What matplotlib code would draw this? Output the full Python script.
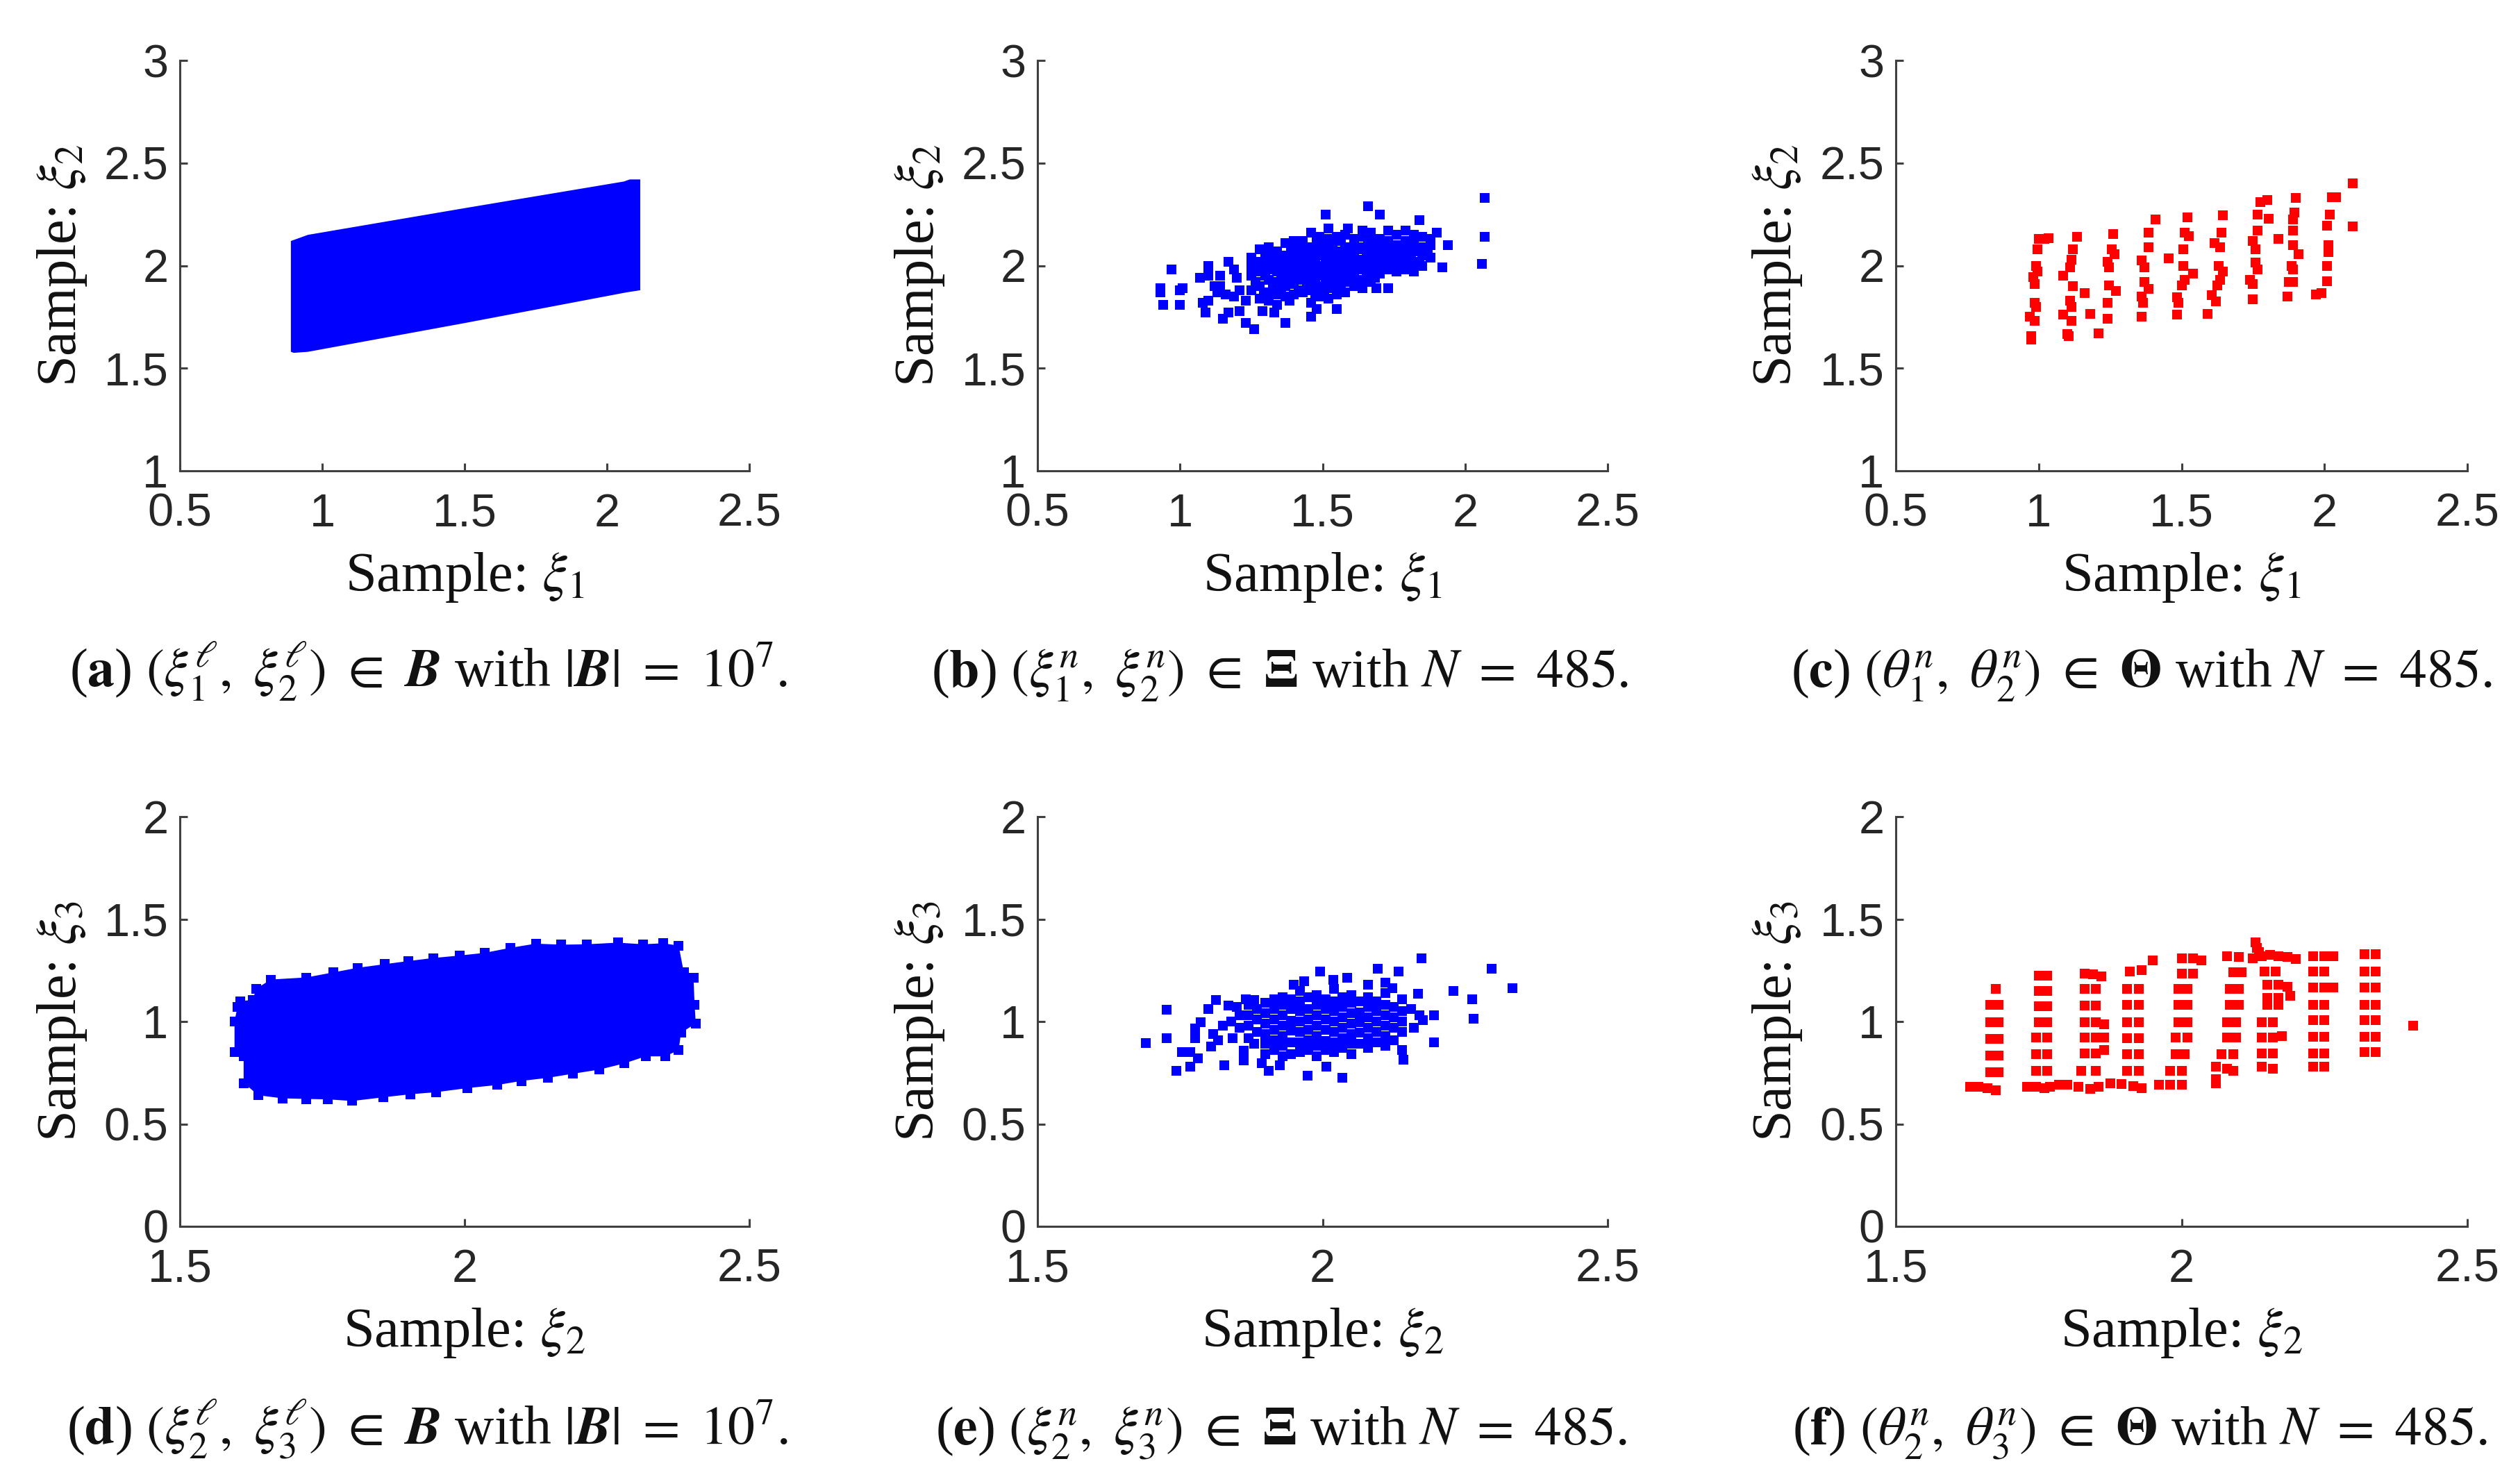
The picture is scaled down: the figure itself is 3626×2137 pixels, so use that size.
#!/usr/bin/env python3
"""plot.py - six scatter panels of the sample sets, saved as out.png"""
import matplotlib
matplotlib.use("Agg")
import matplotlib.pyplot as plt

W, H = 3626, 2137
BLUE = "#0000ff"
RED = "#ff0000"
AXC = "#404040"
MARK = 95

plt.rcParams["font.family"] = ["Liberation Serif", "DejaVu Serif"]
plt.rcParams["mathtext.fontset"] = "stix"

# outlines of the two solid regions (a) and (d)
a_x = [0.89, 0.90, 0.95, 1.50, 2.06, 2.08, 2.117, 2.117, 2.07, 1.50, 0.95, 0.90, 0.89]
a_y = [2.12, 2.125, 2.15, 2.28, 2.41, 2.42, 2.42, 1.88, 1.87, 1.72, 1.58, 1.575, 1.58]

d_x = [1.606, 1.628, 1.634, 1.66, 1.722, 1.77, 1.812, 1.86, 1.901, 1.945, 1.991, 2.035, 2.081, 2.125,
       2.17, 2.215, 2.269, 2.314, 2.349, 2.376, 2.385, 2.402, 2.404, 2.406, 2.38, 2.376, 2.352,
       2.318, 2.28, 2.236, 2.19, 2.146, 2.10, 2.057, 2.005, 1.95, 1.905, 1.857, 1.803, 1.76, 1.722,
       1.68, 1.638, 1.612, 1.612, 1.596, 1.596, 1.601]
d_y = [1.10, 1.105, 1.16, 1.205, 1.215, 1.24, 1.262, 1.28, 1.295, 1.31, 1.322, 1.335, 1.36, 1.38,
       1.375, 1.377, 1.385, 1.377, 1.382, 1.37, 1.24, 1.215, 1.08, 0.99, 0.945, 0.86, 0.83,
       0.83, 0.795, 0.765, 0.745, 0.725, 0.71, 0.69, 0.675, 0.655, 0.645, 0.63, 0.612, 0.62, 0.622,
       0.625, 0.64, 0.70, 0.83, 0.85, 1.00, 1.07]

# panel (b) samples, xi1 / xi2
b_pts = [
    (0.93, 1.89), (0.93, 1.87), (0.94, 1.81), (0.97, 1.98), (1.00, 1.88), (1.01, 1.89), (1.00, 1.81),
    (1.07, 1.94), (1.08, 1.82), (1.10, 1.83), (1.09, 1.77), (1.10, 2.00), (1.10, 1.95), (1.14, 1.95),
    (1.17, 2.02), (1.19, 1.98), (1.14, 1.90), (1.15, 1.74), (1.17, 1.77), (1.21, 1.78), (1.23, 1.72),
    (1.26, 1.69), (1.29, 1.78), (1.33, 1.77), (1.37, 1.72), (1.46, 1.75), (1.48, 1.79), (1.55, 1.79),
    (1.51, 2.25), (1.66, 2.29), (1.70, 2.25), (1.84, 2.22), (1.52, 2.18), (1.59, 2.18), (2.07, 2.33),
    (2.07, 2.14), (2.06, 2.01), (1.90, 2.16), (1.94, 2.10), (1.92, 1.99), (1.73, 1.89), (1.69, 1.89),
    (1.64, 1.89), (1.12, 1.90), (1.16, 1.86), (1.19, 1.85), (1.21, 1.88), (1.23, 1.83), (1.20, 1.94),
    (1.13, 1.87),
    (1.25, 1.88), (1.25, 1.95), (1.25, 2.00), (1.25, 2.04),
    (1.28, 1.84), (1.28, 1.90), (1.28, 1.97), (1.28, 2.02), (1.28, 2.08),
    (1.31, 1.83), (1.31, 1.87), (1.31, 1.93), (1.31, 1.98), (1.31, 2.03), (1.31, 2.09),
    (1.34, 1.81), (1.34, 1.86), (1.34, 1.92), (1.34, 1.97), (1.34, 2.02), (1.34, 2.07),
    (1.37, 1.85), (1.37, 1.90), (1.37, 1.95), (1.37, 2.00), (1.37, 2.05), (1.37, 2.11),
    (1.40, 1.86), (1.40, 1.91), (1.40, 1.96), (1.40, 2.01), (1.40, 2.06), (1.40, 2.12),
    (1.43, 1.87), (1.43, 1.93), (1.43, 1.98), (1.43, 2.03), (1.43, 2.08), (1.43, 2.12),
    (1.46, 1.82), (1.46, 1.88), (1.46, 1.94), (1.46, 1.99), (1.46, 2.04), (1.46, 2.09), (1.46, 2.16),
    (1.49, 1.85), (1.49, 1.90), (1.49, 1.95), (1.49, 2.00), (1.49, 2.05), (1.49, 2.10), (1.49, 2.14),
    (1.52, 1.84), (1.52, 1.89), (1.52, 1.94), (1.52, 1.99), (1.52, 2.04), (1.52, 2.09), (1.52, 2.13),
    (1.55, 1.86), (1.55, 1.92), (1.55, 1.97), (1.55, 2.02), (1.55, 2.07), (1.55, 2.14),
    (1.58, 1.87), (1.58, 1.93), (1.58, 1.98), (1.58, 2.03), (1.58, 2.09), (1.58, 2.15),
    (1.61, 1.90), (1.61, 1.95), (1.61, 2.00), (1.61, 2.05), (1.61, 2.11), (1.61, 2.13),
    (1.64, 1.93), (1.64, 1.98), (1.64, 2.03), (1.64, 2.08), (1.64, 2.14), (1.64, 2.17),
    (1.67, 1.92), (1.67, 1.97), (1.67, 2.02), (1.67, 2.07), (1.67, 2.12), (1.67, 2.16),
    (1.70, 1.96), (1.70, 2.01), (1.70, 2.05), (1.70, 2.09), (1.70, 2.13),
    (1.73, 1.98), (1.73, 2.03), (1.73, 2.08), (1.73, 2.12), (1.73, 2.17),
    (1.76, 1.97), (1.76, 2.02), (1.76, 2.06), (1.76, 2.10), (1.76, 2.15),
    (1.79, 1.98), (1.79, 2.03), (1.79, 2.07), (1.79, 2.12), (1.79, 2.17),
    (1.82, 1.97), (1.82, 2.02), (1.82, 2.07), (1.82, 2.11), (1.82, 2.15),
    (1.85, 2.00), (1.85, 2.05), (1.85, 2.09), (1.85, 2.14),
    (1.88, 2.04), (1.88, 2.10), (1.88, 2.13),
    (1.265, 1.92), (1.27, 2.01), (1.295, 1.87), (1.30, 1.95), (1.30, 2.05), (1.325, 1.90), (1.325, 2.00),
    (1.33, 2.06), (1.355, 1.88), (1.355, 1.94), (1.36, 1.99), (1.355, 2.04), (1.385, 1.83), (1.385, 1.93),
    (1.39, 1.98), (1.385, 2.03), (1.39, 2.08), (1.415, 1.88), (1.415, 1.94), (1.42, 2.00), (1.415, 2.05),
    (1.41, 2.10), (1.445, 1.90), (1.45, 1.96), (1.445, 2.01), (1.45, 2.06), (1.475, 1.86), (1.475, 1.92),
    (1.48, 1.97), (1.475, 2.02), (1.48, 2.07), (1.48, 2.12), (1.505, 1.87), (1.51, 1.92), (1.505, 1.97),
    (1.51, 2.02), (1.505, 2.07), (1.51, 2.11), (1.535, 1.90), (1.54, 1.95), (1.535, 2.00), (1.54, 2.05),
    (1.535, 2.11), (1.565, 1.89), (1.57, 1.95), (1.565, 2.00), (1.57, 2.06), (1.565, 2.12), (1.595, 1.92),
    (1.60, 1.97), (1.595, 2.02), (1.60, 2.07), (1.625, 1.93), (1.63, 1.98), (1.625, 2.03), (1.63, 2.09),
    (1.655, 1.95), (1.66, 2.00), (1.655, 2.05), (1.66, 2.10), (1.685, 1.94), (1.69, 1.99), (1.685, 2.04),
    (1.69, 2.11), (1.715, 2.00), (1.72, 2.06), (1.715, 2.11), (1.745, 2.00), (1.75, 2.05), (1.745, 2.10),
    (1.775, 2.00), (1.78, 2.05), (1.775, 2.09), (1.805, 2.00), (1.81, 2.05), (1.805, 2.10), (1.84, 2.02),
    (1.84, 2.08), (1.87, 2.07),
]

# panel (c) design points, theta1 / theta2
c_pts = [
    (0.975, 1.655), (0.975, 1.64), (0.97, 1.75), (0.985, 1.73), (0.985, 1.82), (0.99, 1.80), (0.985, 1.91),
    (0.98, 1.945), (0.995, 1.97), (0.99, 2.00), (0.995, 2.08), (1.00, 2.13), (1.035, 2.135), (1.02, 2.13),
    (1.10, 1.665), (1.105, 1.655), (1.115, 1.73), (1.085, 1.76), (1.115, 1.80), (1.11, 1.83), (1.12, 1.90),
    (1.085, 1.95), (1.11, 1.99), (1.115, 2.03), (1.12, 2.08), (1.135, 2.14), (1.16, 1.865), (1.18, 1.765),
    (1.21, 1.67), (1.24, 1.74), (1.24, 1.82), (1.27, 1.875), (1.245, 1.905), (1.245, 1.99), (1.24, 2.02),
    (1.265, 2.055), (1.255, 2.08), (1.26, 2.155),
    (1.36, 1.75), (1.365, 1.82), (1.36, 1.85), (1.385, 1.885), (1.37, 1.92), (1.36, 2.025), (1.37, 1.99),
    (1.385, 2.09), (1.385, 2.16), (1.41, 2.225), (1.455, 2.035),
    (1.485, 1.76), (1.49, 1.82), (1.485, 1.845), (1.50, 1.905), (1.51, 1.93), (1.54, 1.96), (1.505, 2.00),
    (1.505, 2.08), (1.51, 2.16), (1.525, 2.145), (1.52, 2.235),
    (1.59, 1.765), (1.62, 1.825), (1.605, 1.855), (1.625, 1.905), (1.635, 1.93), (1.645, 1.97), (1.63, 2.00),
    (1.615, 2.11), (1.635, 2.09), (1.64, 2.16), (1.645, 2.245),
    (1.75, 1.835), (1.75, 1.91), (1.74, 1.93), (1.765, 1.98), (1.76, 2.015), (1.76, 2.08), (1.75, 2.12),
    (1.765, 2.17), (1.765, 2.25), (1.775, 2.31), (1.80, 2.32), (1.805, 2.23), (1.84, 2.13),
    (1.87, 1.85), (1.89, 1.92), (1.875, 1.92), (1.885, 2.00), (1.89, 1.98), (1.91, 2.055), (1.89, 2.10),
    (1.89, 2.17), (1.89, 2.225), (1.895, 2.26), (1.90, 2.33),
    (1.97, 1.86), (1.99, 1.865), (2.01, 1.925), (2.01, 2.00), (2.015, 2.065), (2.015, 2.10), (2.01, 2.195),
    (2.02, 2.25), (2.025, 2.335), (2.04, 2.335), (2.10, 2.40), (2.10, 2.19),
]

# panel (e) samples, xi2 / xi3
e_pts = [
    (1.69, 0.895), (1.726, 1.057), (1.726, 0.92), (1.743, 0.758), (1.753, 0.85), (1.768, 0.85), (1.768, 0.78),
    (1.781, 0.82), (1.828, 0.785), (1.862, 0.81), (1.893, 0.795), (1.905, 0.76), (1.925, 0.785), (1.974, 0.735),
    (2.007, 0.78), (2.035, 0.725), (2.142, 0.815), (2.195, 0.90), (2.265, 1.015), (2.262, 1.11), (2.23, 1.15),
    (2.297, 1.257), (2.333, 1.163), (2.173, 1.31), (2.133, 1.245), (2.097, 1.257), (1.996, 1.245), (2.043, 1.213),
    (2.019, 1.203), (1.968, 1.198), (1.95, 1.18), (2.122, 1.163), (2.167, 1.137), (2.195, 1.03), (2.176, 1.007),
    (1.813, 1.105), (1.80, 1.06), (1.786, 0.995), (1.777, 0.965), (1.777, 0.92), (1.808, 0.94), (1.817, 0.91),
    (1.804, 0.877), (1.866, 1.11), (1.835, 1.077), (1.842, 0.92), (1.862, 0.856),
    (1.87, 0.92), (1.87, 0.98), (1.87, 1.03), (1.87, 1.08),
    (1.90, 0.84), (1.90, 0.89), (1.90, 0.94), (1.90, 0.99), (1.90, 1.04), (1.90, 1.09),
    (1.93, 0.83), (1.93, 0.88), (1.93, 0.93), (1.93, 0.98), (1.93, 1.03), (1.93, 1.08), (1.93, 1.12),
    (1.96, 0.85), (1.96, 0.90), (1.96, 0.95), (1.96, 1.00), (1.96, 1.05), (1.96, 1.10), (1.96, 1.15),
    (1.99, 0.83), (1.99, 0.88), (1.99, 0.93), (1.99, 0.98), (1.99, 1.03), (1.99, 1.08), (1.99, 1.13),
    (2.02, 0.85), (2.02, 0.90), (2.02, 0.95), (2.02, 1.00), (2.02, 1.05), (2.02, 1.10), (2.02, 1.16),
    (2.05, 0.84), (2.05, 0.89), (2.05, 0.94), (2.05, 0.99), (2.05, 1.04), (2.05, 1.09), (2.05, 1.13),
    (2.08, 0.87), (2.08, 0.92), (2.08, 0.97), (2.08, 1.02), (2.08, 1.07), (2.08, 1.12), (2.08, 1.18),
    (2.11, 0.88), (2.11, 0.93), (2.11, 0.98), (2.11, 1.03), (2.11, 1.08), (2.11, 1.14), (2.11, 1.19),
    (2.14, 0.86), (2.14, 0.95), (2.14, 1.00), (2.14, 1.05), (2.14, 1.11),
    (1.885, 0.95), (1.885, 1.01), (1.885, 1.06), (1.915, 0.86), (1.915, 0.91), (1.915, 0.96), (1.915, 1.01),
    (1.915, 1.06), (1.915, 1.11), (1.945, 0.84), (1.945, 0.90), (1.945, 0.955), (1.945, 1.005), (1.945, 1.06),
    (1.945, 1.11), (1.975, 0.86), (1.975, 0.91), (1.975, 0.96), (1.975, 1.01), (1.975, 1.06), (1.975, 1.12),
    (2.005, 0.86), (2.005, 0.905), (2.005, 0.96), (2.005, 1.01), (2.005, 1.06), (2.005, 1.11), (2.035, 0.87),
    (2.035, 0.92), (2.035, 0.97), (2.035, 1.02), (2.035, 1.07), (2.035, 1.12), (2.065, 0.89), (2.065, 0.945),
    (2.065, 0.995), (2.065, 1.045), (2.065, 1.10), (2.095, 0.90), (2.095, 0.95), (2.095, 1.00), (2.095, 1.05),
    (2.095, 1.10), (2.125, 0.91), (2.125, 0.97), (2.125, 1.02), (2.125, 1.07), (1.855, 0.97), (1.855, 1.03),
    (1.84, 1.00), (1.88, 0.89), (1.825, 0.98), (1.85, 1.07), (1.88, 1.105), (2.16, 0.97), (2.17, 1.03),
    (2.155, 1.06),
]

# panel (f) design points, theta2 / theta3
f_pts = [
    (1.675, 1.16), (1.665, 1.083), (1.68, 1.083), (1.665, 0.997), (1.68, 0.997), (1.665, 0.914), (1.68, 0.914),
    (1.665, 0.834), (1.68, 0.834), (1.665, 0.752), (1.68, 0.752), (1.63, 0.68), (1.645, 0.68), (1.66, 0.675),
    (1.675, 0.665),
    (1.75, 1.224), (1.765, 1.224), (1.75, 1.148), (1.765, 1.148), (1.75, 1.073), (1.765, 1.073), (1.75, 0.997),
    (1.765, 0.997), (1.745, 0.921), (1.765, 0.921), (1.745, 0.841), (1.765, 0.841), (1.745, 0.758), (1.765, 0.758),
    (1.73, 0.68), (1.745, 0.68), (1.76, 0.675), (1.77, 0.68),
    (1.83, 1.235), (1.845, 1.23), (1.86, 1.22), (1.83, 1.159), (1.85, 1.159), (1.83, 1.077), (1.85, 1.077),
    (1.83, 0.997), (1.85, 0.997), (1.865, 0.985), (1.83, 0.921), (1.85, 0.921), (1.865, 0.921), (1.83, 0.845),
    (1.85, 0.845), (1.865, 0.86), (1.825, 0.758), (1.85, 0.758), (1.785, 0.69), (1.80, 0.69), (1.82, 0.68),
    (1.84, 0.67), (1.855, 0.68),
    (1.91, 1.245), (1.93, 1.25), (1.95, 1.30), (1.905, 1.16), (1.925, 1.16), (1.905, 1.08), (1.925, 1.08),
    (1.905, 0.997), (1.925, 0.997), (1.905, 0.917), (1.925, 0.917), (1.905, 0.839), (1.925, 0.839), (1.905, 0.758),
    (1.925, 0.758), (1.875, 0.70), (1.895, 0.695), (1.915, 0.685), (1.93, 0.675),
    (2.00, 1.31), (2.02, 1.31), (2.035, 1.30), (2.00, 1.235), (2.02, 1.235), (1.995, 1.16), (2.01, 1.16),
    (1.995, 1.08), (2.01, 1.08), (1.995, 0.997), (2.01, 0.997), (1.99, 0.921), (2.01, 0.921), (1.99, 0.841),
    (2.005, 0.841), (1.98, 0.758), (2.00, 0.758), (1.96, 0.693), (1.98, 0.693), (2.00, 0.693),
    (2.08, 1.32), (2.10, 1.315), (2.125, 1.31), (2.09, 1.24), (2.105, 1.24), (2.085, 1.16), (2.10, 1.16),
    (2.085, 1.08), (2.10, 1.08), (2.08, 0.997), (2.095, 0.997), (2.08, 0.921), (2.095, 0.921), (2.07, 0.841),
    (2.09, 0.841), (2.06, 0.78), (2.08, 0.77), (2.09, 0.76), (2.06, 0.70), (2.06, 0.72),
    (2.13, 1.387), (2.132, 1.36), (2.135, 1.34), (2.14, 1.32), (2.155, 1.325), (2.17, 1.32), (2.185, 1.315),
    (2.20, 1.306), (2.145, 1.245), (2.165, 1.245), (2.15, 1.18), (2.17, 1.18), (2.185, 1.17), (2.15, 1.116),
    (2.17, 1.116), (2.19, 1.125), (2.15, 1.08), (2.17, 1.08), (2.14, 0.997), (2.16, 0.997), (2.14, 0.921),
    (2.16, 0.921), (2.175, 0.93), (2.14, 0.845), (2.16, 0.845), (2.14, 0.78), (2.16, 0.77),
    (2.23, 1.32), (2.25, 1.32), (2.265, 1.32), (2.23, 1.245), (2.25, 1.245), (2.23, 1.166), (2.25, 1.166),
    (2.265, 1.166), (2.23, 1.083), (2.25, 1.083), (2.23, 1.008), (2.25, 1.008), (2.23, 0.925), (2.25, 0.925),
    (2.23, 0.845), (2.25, 0.845), (2.23, 0.78), (2.25, 0.78),
    (2.32, 1.328), (2.34, 1.328), (2.32, 1.245), (2.34, 1.245), (2.32, 1.166), (2.34, 1.166), (2.32, 1.083),
    (2.34, 1.083), (2.32, 1.008), (2.34, 1.008), (2.32, 0.927), (2.34, 0.927), (2.32, 0.85), (2.34, 0.85),
    (2.405, 0.98),
]

top_xticks = [0.5, 1, 1.5, 2, 2.5]
top_yticks = [1, 1.5, 2, 2.5, 3]
bot_xticks = [1.5, 2, 2.5]
bot_yticks = [0, 0.5, 1, 1.5, 2]


def make_axes(left, right, top, bottom, xticks, yticks, xlabel, ylabel):
    ax = fig.add_axes([left / W, 1 - bottom / H, (right - left) / W, (bottom - top) / H])
    ax.set_xlim(xticks[0], xticks[-1])
    ax.set_ylim(yticks[0], yticks[-1])
    ax.set_xticks(xticks, [f"{t:g}" for t in xticks], family="Liberation Sans")
    ax.set_yticks(yticks, [f"{t:g}" for t in yticks], family="Liberation Sans")
    ax.tick_params(direction="in", length=8, width=2.2, color=AXC, labelcolor="#262626", labelsize=48)
    ax.tick_params(axis="x", pad=23)
    ax.tick_params(axis="y", pad=12)
    for side in ("top", "right"):
        ax.spines[side].set_visible(False)
    for side in ("left", "bottom"):
        ax.spines[side].set_color(AXC)
        ax.spines[side].set_linewidth(2.2)
    ax.set_xlabel(xlabel, fontsize=58, color="#111111")
    ax.set_ylabel(ylabel, fontsize=58, color="#111111")
    ax.xaxis.set_label_coords(0.5, -0.195)
    ax.yaxis.set_label_coords(-0.16, 0.5)
    return ax


def scatter_pts(ax, xs, ys, color):
    ax.scatter(xs, ys, s=MARK, marker="s", color=color, linewidths=0)


def split(pts):
    return [p[0] for p in pts], [p[1] for p in pts]


def caption(x, y, text):
    fig.text(x / W, 1 - y / H, text, fontsize=56, color="#111111", ha="left", va="baseline")


fig = plt.figure(figsize=(W / 100, H / 100), dpi=100)

ax_a = make_axes(259, 1079, 87, 678, top_xticks, top_yticks, r"Sample: $\xi_1$", r"Sample: $\xi_2$")
ax_a.fill(a_x, a_y, color=BLUE, linewidth=0)
ax_b = make_axes(1494, 2315, 87, 678, top_xticks, top_yticks, r"Sample: $\xi_1$", r"Sample: $\xi_2$")
scatter_pts(ax_b, *split(b_pts), BLUE)
ax_c = make_axes(2730, 3553, 87, 678, top_xticks, top_yticks, r"Sample: $\xi_1$", r"Sample: $\xi_2$")
scatter_pts(ax_c, *split(c_pts), RED)
ax_d = make_axes(259, 1079, 1176, 1766, bot_xticks, bot_yticks, r"Sample: $\xi_2$", r"Sample: $\xi_3$")
ax_d.fill(d_x, d_y, color=BLUE, linewidth=0)
scatter_pts(ax_d, d_x, d_y, BLUE)
ax_e = make_axes(1494, 2315, 1176, 1766, bot_xticks, bot_yticks, r"Sample: $\xi_2$", r"Sample: $\xi_3$")
scatter_pts(ax_e, *split(e_pts), BLUE)
ax_f = make_axes(2730, 3553, 1176, 1766, bot_xticks, bot_yticks, r"Sample: $\xi_2$", r"Sample: $\xi_3$")
scatter_pts(ax_f, *split(f_pts), RED)

caption(100, 989, r"($\mathbf{a}$) $(\xi_1^{\ell},\ \xi_2^{\ell})\ \in\ \mathbfit{B}$ with $|\mathbfit{B}|\ =\ 10^7$.")
caption(1341, 989, r"($\mathbf{b}$) $(\xi_1^{n},\ \xi_2^{n})\ \in\ \mathbf{\Xi}$ with $N\ =\ 485$.")
caption(2579, 989, r"($\mathbf{c}$) $(\theta_1^{n},\ \theta_2^{n})\ \in\ \mathbf{\Theta}$ with $N\ =\ 485$.")
caption(96, 2080, r"($\mathbf{d}$) $(\xi_2^{\ell},\ \xi_3^{\ell})\ \in\ \mathbfit{B}$ with $|\mathbfit{B}|\ =\ 10^7$.")
caption(1347, 2080, r"($\mathbf{e}$) $(\xi_2^{n},\ \xi_3^{n})\ \in\ \mathbf{\Xi}$ with $N\ =\ 485$.")
caption(2581, 2080, r"($\mathbf{f}$) $(\theta_2^{n},\ \theta_3^{n})\ \in\ \mathbf{\Theta}$ with $N\ =\ 485$.")

fig.savefig("out.png", dpi=100)
